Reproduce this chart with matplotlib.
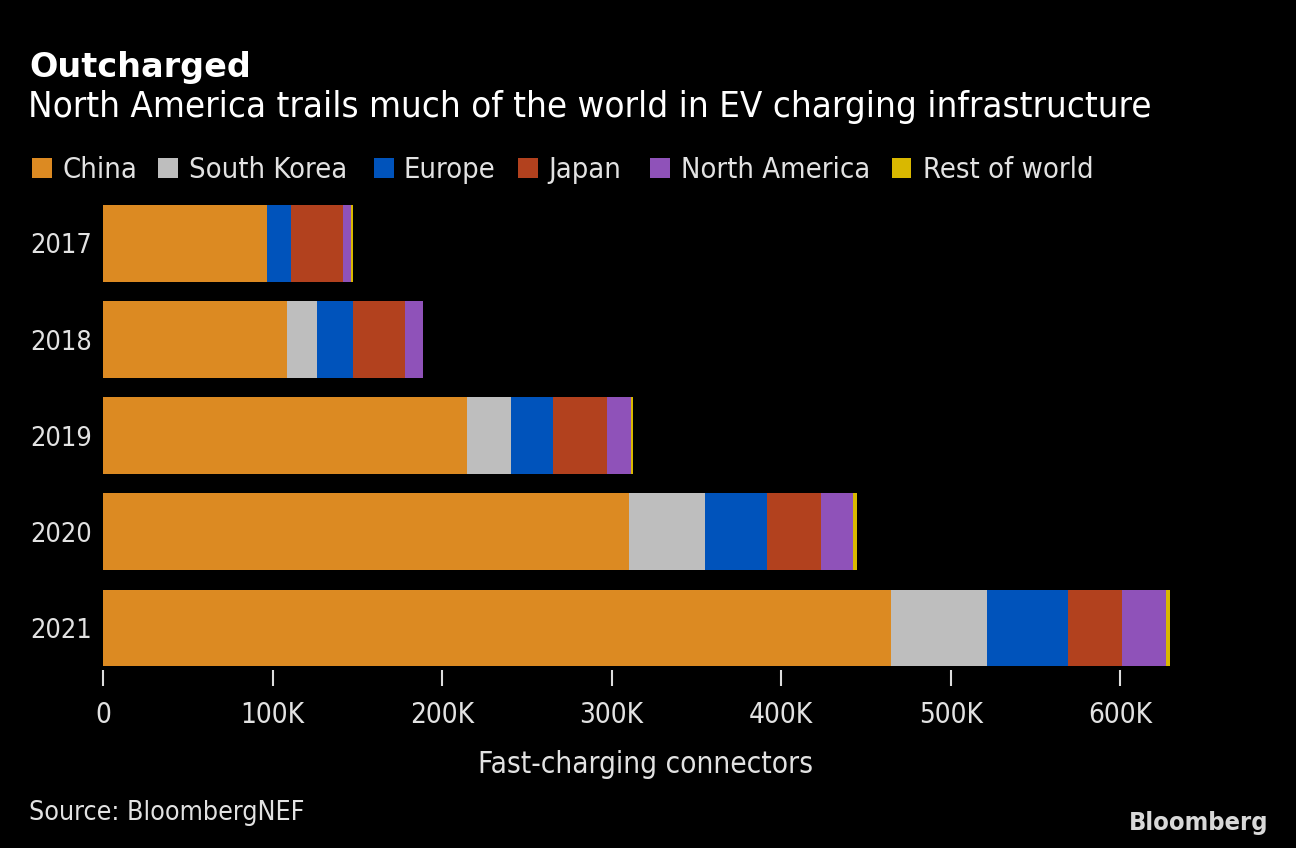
import os
import matplotlib
matplotlib.use("Agg")
import matplotlib.pyplot as plt
import matplotlib.font_manager as fm
from matplotlib.font_manager import FontProperties
from matplotlib.patches import Rectangle
import numpy as np

years = ["2017", "2018", "2019", "2020", "2021"]
series_names = ["China", "South Korea", "Europe", "Japan", "North America", "Rest of world"]
china = [96.7, 108.5, 214.6, 310.1, 464.6]
south_korea = [0.0, 17.7, 25.9, 44.8, 56.6]
europe = [14.2, 21.2, 24.8, 36.6, 48.3]
japan = [30.7, 30.7, 31.8, 31.8, 31.8]
north_america = [4.7, 10.6, 14.2, 18.9, 25.9]
rest_of_world = [1.2, 0.0, 1.2, 2.4, 2.4]
x_ticks = [0, 100, 200, 300, 400, 500, 600]
x_tick_labels = ["0", "100K", "200K", "300K", "400K", "500K", "600K"]

colors = ["#DC8A22", "#BEBEBE", "#0053BB", "#B2411E", "#8F52B9", "#D9B800"]
series = [china, south_korea, europe, japan, north_america, rest_of_world]


def find_font(names, fallback_family, weight="normal"):
    files = {os.path.basename(f.fname).lower(): f.fname for f in fm.fontManager.ttflist}
    for n in names:
        if n.lower() in files:
            return files[n.lower()]
    return fm.findfont(FontProperties(family=fallback_family, weight=weight))


REG = find_font(["DejaVuSansCondensed.ttf", "LiberationSansNarrow-Regular.ttf",
                 "RobotoCondensed-Regular.ttf"], "DejaVu Sans")
BOLDC = find_font(["DejaVuSansCondensed-Bold.ttf", "LiberationSansNarrow-Bold.ttf",
                   "RobotoCondensed-Bold.ttf"], "DejaVu Sans", "bold")
BOLD = fm.findfont(FontProperties(family="DejaVu Sans", weight="bold"))


def fp(path, size):
    return FontProperties(fname=path, size=size)


TXT = "#E2E2E2"
W, H = 1296, 848
fig = plt.figure(figsize=(W / 100, H / 100), dpi=100, facecolor="black")
renderer = fig.canvas.get_renderer()


def fit(t, target_w):
    for _ in range(3):
        w = t.get_window_extent(renderer).width
        t.set_fontsize(t.get_fontsize() * target_w / w)


ax_left, ax_right, ax_top, ax_bottom = 103, 1188, 200, 670
ax = fig.add_axes([ax_left / W, 1 - ax_bottom / H, (ax_right - ax_left) / W, (ax_bottom - ax_top) / H])
ax.set_facecolor("black")

y = np.arange(len(years))
left = np.zeros(len(years))
for vals, col in zip(series, colors):
    v = np.array(vals)
    ax.barh(y, v, left=left, height=0.8, color=col, linewidth=0)
    left += v

ax.set_xlim(0, 640)
ax.set_ylim(4.437, -0.4525)
ax.set_yticks(y)
ax.set_yticklabels(years, color=TXT)
ax.set_xticks(x_ticks)
ax.set_xticklabels(x_tick_labels, color=TXT)
ax.tick_params(axis="y", length=0, pad=8)
ax.tick_params(axis="x", length=11.5, width=1.5, color="#DDDDDD", pad=11, direction="out")
for s in ax.spines.values():
    s.set_visible(False)
for lab in ax.get_yticklabels():
    lab.set_fontproperties(fp(REG, 20))
for lab in ax.get_xticklabels():
    lab.set_fontproperties(fp(REG, 19))
ax.set_xlabel("Fast-charging connectors", color=TXT, labelpad=15)
ax.xaxis.label.set_fontproperties(fp(REG, 19))

# size fitting of tick labels
fig.canvas.draw()
for _ in range(3):
    wy = ax.get_yticklabels()[0].get_window_extent(renderer).width
    sy = ax.get_yticklabels()[0].get_fontsize() * 62 / wy
    for lab in ax.get_yticklabels():
        lab.set_fontsize(sy)
    wx = ax.get_xticklabels()[1].get_window_extent(renderer).width
    sx = ax.get_xticklabels()[1].get_fontsize() * 64 / wx
    for lab in ax.get_xticklabels():
        lab.set_fontsize(sx)
    fig.canvas.draw()
fit(ax.xaxis.label, 336)

# titles
t1 = fig.text(29 / W, 1 - 77 / H, "Outcharged", fontproperties=fp(BOLD, 24), color="white",
              va="baseline", ha="left")
fit(t1, 221)
t2 = fig.text(28 / W, 1 - 117.5 / H, "North America trails much of the world in EV charging infrastructure",
              fontproperties=fp(REG, 26), color="white", va="baseline", ha="left")
fit(t2, 1119)

# legend
sq_x = [32.3, 158.4, 374, 518, 650, 892]
txt_x = [62.2, 188.6, 404, 548, 680.7, 922.7]
txt_w = [70, 159, 88, 76, 185, 175]
leg_texts = []
for name, col, sx_, tx in zip(series_names, colors, sq_x, txt_x):
    fig.patches.append(Rectangle((sx_ / W, 1 - 177.7 / H), 19.5 / W, 19.4 / H,
                                 transform=fig.transFigure, color=col, linewidth=0))
    t = fig.text(tx / W, 1 - 178 / H, name, fontproperties=fp(REG, 20), color=TXT,
                 va="baseline", ha="left")
    leg_texts.append(t)
tot_target = sum(txt_w[1:])
for _ in range(3):
    tot = sum(t.get_window_extent(renderer).width for t in leg_texts[1:])
    s = leg_texts[0].get_fontsize() * tot_target / tot
    for t in leg_texts:
        t.set_fontsize(s)

t3 = fig.text(29 / W, 1 - 820 / H, "Source: BloombergNEF", fontproperties=fp(REG, 18), color=TXT,
              va="baseline", ha="left")
fit(t3, 274)
t4 = fig.text(1268.5 / W, 1 - 830 / H, "Bloomberg", fontproperties=fp(BOLDC, 18), color="#D8D8D8",
              va="baseline", ha="right")
fit(t4, 140)

fig.savefig("out.png", dpi=100, facecolor="black")
